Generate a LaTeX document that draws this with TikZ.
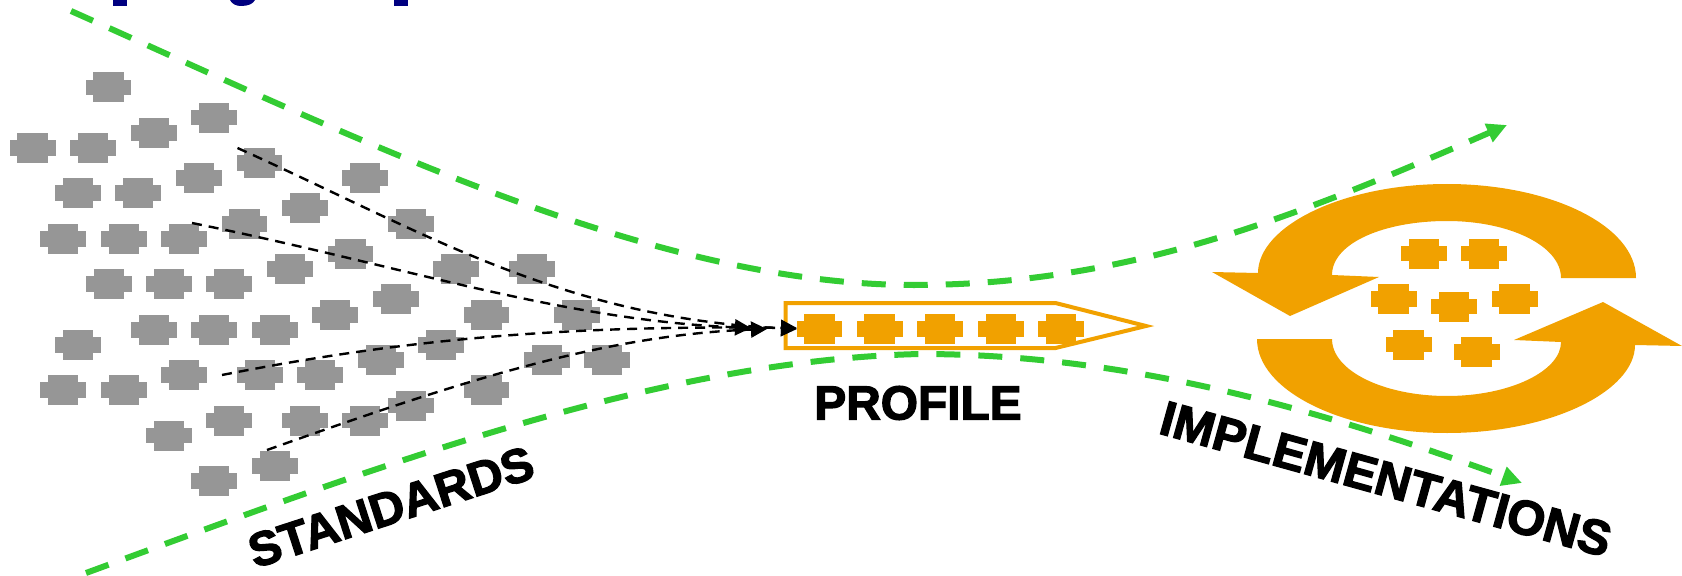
\documentclass[tikz,border=0pt]{standalone}
\usepackage{fontspec}
\newfontfamily\labelfont[BoldFeatures={FakeBold=2.6}]{Liberation Sans}
\usetikzlibrary{arrows.meta}
\definecolor{stdgray}{HTML}{969696}
\definecolor{profileorange}{HTML}{F1A100}
\definecolor{funnelgreen}{HTML}{33CC33}
\definecolor{titlenavy}{HTML}{000080}
\tikzset{
  blob/.pic={
    \fill[pic actions] (-15.3,-15) rectangle (15.3,15);
    \fill[pic actions] (-22.8,-7.7) rectangle (22.8,7.7);
  },
  funnel/.style={funnelgreen, line width=0.06cm, dash pattern=on 0.24cm off 0.18cm,
    -{Triangle[length=0.2cm,width=0.19cm]}},
  pointer/.style={black, line width=0.024cm, dash pattern=on 0.1cm off 0.07cm,
    -{Triangle[length=0.16cm,width=0.16cm]}},
  biglabel/.style={font=\labelfont\bfseries\fontsize{13.6}{16}\selectfont, inner sep=0pt}
}
\begin{document}
\begin{tikzpicture}[x=0.01cm,y=-0.01cm]
      \useasboundingbox (0,0) rectangle (1682,576);
      % Cut off title
      \fill[titlenavy] (113,0) rectangle (127,6);
      \fill[titlenavy] (230,0) .. controls (232,4) and (236,6) .. (241,6) .. controls (248,6) and (253,4) .. (255,0) -- cycle;
      \fill[titlenavy] (394,0) rectangle (408,6);
      % Standards
      \foreach \x/\y in {108.6/87.5, 214/117.6, 154/133, 32.7/148, 93/148, 259.6/163, 199/178, 365/178,
          78/193, 138/193, 305/208, 244.5/224, 411/224, 63/239, 124/239, 184/239, 350.6/254, 290/269,
          456/269, 532/269, 109/284, 169/284, 229/284, 396/299, 335/315, 486.5/315, 577/315, 154/330,
          214/330, 275/330, 78/345, 441/345, 381/360, 547/360, 607/360, 184/375, 260/375, 320/375,
          63/390, 124/390, 486.5/390, 411/405.5, 229/420.6, 305/420.6, 365/420.6, 169/435.7, 275/466, 214/481}
        \pic[fill=stdgray] at (\x,\y) {blob};
      % Profile
      \coordinate (p1) at (785.5,303);
      \coordinate (p2) at (1055.5,303);
      \coordinate (p3) at (1146,326);
      \coordinate (p4) at (1055.5,348);
      \coordinate (p5) at (785.5,348);
      \draw[profileorange, line width=0.04cm, miter limit=10] (p1) -- (p2) -- (p3) -- (p4) -- (p5) -- cycle;
      \foreach \x in {819.6,879.7,940,1001,1061}
        \pic[fill=profileorange] at (\x,329) {blob};
      % Implementations
      \fill[profileorange] (1636,278) .. controls (1636,226) and (1551,184) .. (1447,184)
        .. controls (1343,184) and (1258,226) .. (1258,273) -- (1212,272) -- (1290,316) -- (1379,277) -- (1332,275)
        .. controls (1332,243) and (1384,221) .. (1447,221) .. controls (1510,221) and (1561,246) .. (1561,278) -- cycle;
      \fill[profileorange] (1257,339) .. controls (1257,391) and (1343,433) .. (1447,433)
        .. controls (1551,433) and (1635,391) .. (1635,345) -- (1682,346) -- (1603,302) -- (1514,340) -- (1561,342)
        .. controls (1561,371) and (1510,396) .. (1447,396) .. controls (1384,396) and (1332,371) .. (1332,339) -- cycle;
      \foreach \x/\y in {1424/253.7, 1484/253.7, 1393.7/299, 1454/306.7, 1514.7/299, 1408.7/344.7, 1476.7/352}
        \pic[fill=profileorange] at (\x,\y) {blob};
      % Pointers
      \coordinate (s1) at (237.5,148);
      \coordinate (s2) at (192,223);
      \coordinate (s3) at (222,375);
      \coordinate (s4) at (267,450);
      \coordinate (t1) at (797,329);
      \coordinate (t2) at (751,328);
      \coordinate (t3) at (797,328);
      \coordinate (t4) at (767,329);
      \draw[pointer] (s1) .. controls (420,230) and (560,318) .. (t1);
      \draw[pointer] (s2) .. controls (400,265) and (560,320) .. (t2);
      \draw[pointer] (s3) .. controls (400,340) and (560,325) .. (t3);
      \draw[pointer] (s4) .. controls (450,385) and (600,335) .. (t4);
      % Funnel
      \coordinate (a1) at (71,11);
      \coordinate (a2) at (914,285);
      \coordinate (a3) at (1507,125);
      \coordinate (b1) at (86,573);
      \coordinate (b2) at (920,354);
      \coordinate (b3) at (1522,483);
      \draw[funnel] (a1) .. controls (350,135) and (650,285) .. (a2) .. controls (1130,285) and (1300,215) .. (a3);
      \draw[funnel] (b1) .. controls (380,465) and (660,360) .. (b2) .. controls (1130,354) and (1320,410) .. (b3);
      % Labels
      \node[biglabel] (standards) at (391,507) [rotate=18] {STANDARDS};
      \node[biglabel] (profile) at (918,403) {PROFILE};
      \node[biglabel, font=\labelfont\bfseries\fontsize{13.9}{16}\selectfont] (implementations) at (1386,479) [rotate=-15.5] {IMPLEMENTATIONS};
    \end{tikzpicture}
\end{document}
